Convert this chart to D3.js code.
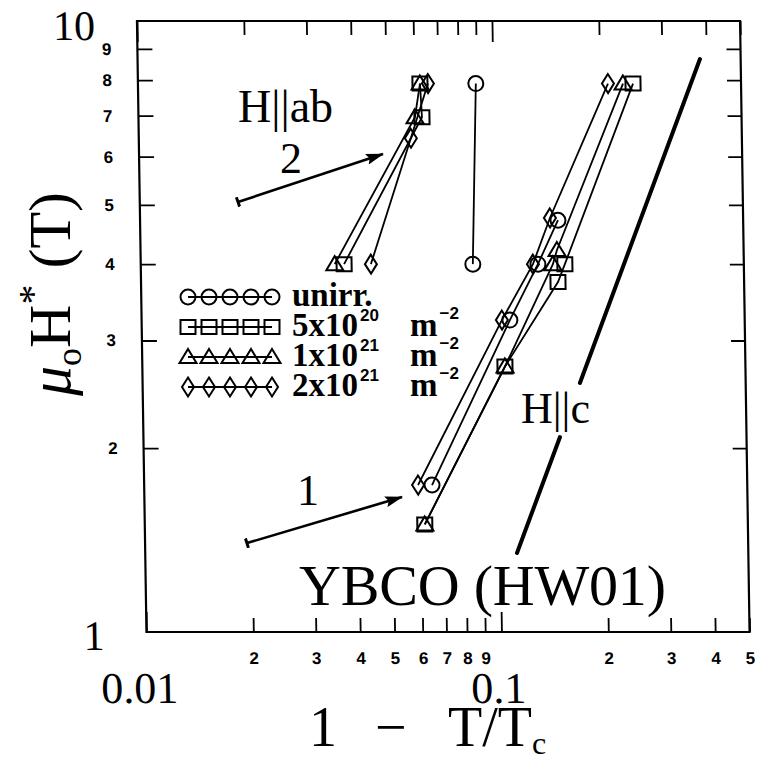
<!DOCTYPE html>
<html>
<head>
<meta charset="utf-8">
<script src="https://cdn.jsdelivr.net/npm/d3@7"></script>
<style>
  body { margin: 0; background: #fff; }
  text { fill: #000; }
</style>
</head>
<body>
<svg id="chart"></svg>
<script>
const width = 770, height = 762;

// [1 - T/Tc, mu0 H* (T)]
// H || ab
const unirrAb = [[0.0862, 4.0], [0.0895, 7.9]];
const f5e20Ab = [[0.0374, 4.0], [0.0629, 6.96], [0.0623, 7.9]];
const f1e21Ab = [[0.0352, 4.0], [0.0601, 6.96], [0.0623, 7.9]];
const f2e21Ab = [[0.0445, 4.0], [0.0584, 6.43], [0.0656, 7.9]];
// H || c
const unirrC = [[0.0647, 1.74], [0.1090, 3.24], [0.1315, 4.0], [0.1504, 4.72]];
const f5e20C = [[0.0615, 1.5], [0.1051, 2.72], [0.1495, 3.74], [0.1566, 4.0], [0.2481, 7.9]];
const f1e21C = [[0.0615, 1.5], [0.1051, 2.72], [0.1449, 4.0], [0.1490, 4.22], [0.2325, 7.9]];
const f2e21C = [[0.0591, 1.74], [0.1035, 3.24], [0.1273, 4.0], [0.1428, 4.76], [0.2109, 7.9]];

// guide line (slope) for H || c, drawn in two pieces around its label
const guideLow = [[0.1115, 1.347], [0.1491, 2.085]];
const guideHigh = [[0.1706, 2.556], [0.3840, 8.665]];

// arrows "1" and "2": [tail, head]
const arrow1 = [[0.01936, 1.398], [0.0532, 1.663]];
const arrow2 = [[0.01891, 5.056], [0.04866, 6.058]];

const xMinorTicks = [0.02, 0.03, 0.04, 0.05, 0.06, 0.07, 0.08, 0.09, 0.2, 0.3, 0.4, 0.5];
const xMajorTicks = [0.01, 0.1];
const yMinorTicks = [2, 3, 4, 5, 6, 7, 8, 9];
const yMajorTicks = [1, 10];

const legendShapes = ["circle", "square", "triangle", "diamond"];
const legendLabels = ["unirr.", "5x10", "1x10", "2x10"];
const legendExps = [null, "20", "21", "21"];

const series = [
    { data: unirrAb, shape: "circle" },
    { data: f5e20Ab, shape: "square" },
    { data: f1e21Ab, shape: "triangle" },
    { data: f2e21Ab, shape: "diamond" },
    { data: unirrC, shape: "circle" },
    { data: f5e20C, shape: "square" },
    { data: f1e21C, shape: "triangle" },
    { data: f2e21C, shape: "diamond" }
];

const serif = "'Liberation Serif', 'Times New Roman', serif";
const sans = "'Liberation Sans', Arial, sans-serif";

const svg = d3.select("#chart")
    .attr("width", width)
    .attr("height", height)
    .attr("viewBox", [0, 0, width, height]);

const x = d3.scaleLog().domain([0.01, 0.5]).range([141.7, 744.8]);
const y = d3.scaleLog().domain([1, 10]).range([632, 21]);

// the scanned figure leans a little: top edge sits left of the bottom edge
const skew = 0.89;
const midY = 326;
const plot = svg.append("g")
    .attr("transform", `translate(${-Math.tan(skew * Math.PI / 180) * midY},0) skewX(${skew})`);

plot.append("rect")
    .attr("x", x(0.01))
    .attr("y", y(10))
    .attr("width", x(0.5) - x(0.01))
    .attr("height", y(1) - y(10))
    .attr("fill", "none")
    .attr("stroke", "#000")
    .attr("stroke-width", 2.2);

function styleAxis(g) {
    g.select(".domain").remove();
    g.selectAll(".tick line").attr("stroke", "#000").attr("stroke-width", 1.8);
    g.selectAll("text").attr("fill", "#000");
}

const digit = d => Math.round(d < 0.1 ? d / 0.01 : d / 0.1);

// bottom
plot.append("g")
    .attr("transform", `translate(0,${y(1)})`)
    .call(d3.axisBottom(x).tickValues(xMinorTicks).tickSize(-14).tickPadding(20).tickFormat(digit))
    .call(styleAxis)
    .call(g => g.selectAll("text")
        .attr("font-family", sans).attr("font-weight", "bold").attr("font-size", 17));

plot.append("g")
    .attr("transform", `translate(0,${y(1)})`)
    .call(d3.axisBottom(x).tickValues(xMajorTicks).tickSize(-20).tickPadding(40).tickFormat(d => String(d)))
    .call(styleAxis)
    .call(g => g.selectAll("text")
        .attr("font-family", serif).attr("font-size", 44)
        .attr("dx", d => d === 0.01 ? -8 : -4));

// top
plot.append("g")
    .attr("transform", `translate(0,${y(10)})`)
    .call(d3.axisTop(x).tickValues(xMinorTicks).tickSize(-14).tickFormat(""))
    .call(styleAxis);
plot.append("g")
    .attr("transform", `translate(0,${y(10)})`)
    .call(d3.axisTop(x).tickValues(xMajorTicks).tickSize(-21).tickFormat(""))
    .call(styleAxis);

// left
plot.append("g")
    .attr("transform", `translate(${x(0.01)},0)`)
    .call(d3.axisLeft(y).tickValues(yMinorTicks).tickSize(-15).tickPadding(26))
    .call(styleAxis)
    .call(g => g.selectAll("text")
        .attr("font-family", sans).attr("font-weight", "bold").attr("font-size", 17));

plot.append("g")
    .attr("transform", `translate(${x(0.01)},0)`)
    .call(d3.axisLeft(y).tickValues(yMajorTicks).tickSize(0).tickPadding(42).tickFormat(d3.format("d")))
    .call(styleAxis)
    .call(g => g.selectAll("text")
        .attr("font-family", serif).attr("font-size", 42)
        .attr("dy", d => d === 10 ? "0.45em" : "0.42em"));

// right
plot.append("g")
    .attr("transform", `translate(${x(0.5)},0)`)
    .call(d3.axisRight(y).tickValues(yMinorTicks).tickSize(-14).tickFormat(""))
    .call(styleAxis);

// marker shapes, centred on 0,0
function shapePath(shape) {
    switch (shape) {
        case "circle": return d3.symbol(d3.symbolCircle, Math.PI * 7.5 * 7.5)();
        case "square": return "M-7.5,-7L7.5,-7L7.5,7L-7.5,7Z";
        case "triangle": return "M0,-8L8.5,6L-8.5,6Z";
        case "diamond": return "M0,-9.5L6,0L0,9.5L-6,0Z";
    }
}

const line = d3.line().x(d => x(d[0])).y(d => y(d[1]));

const groups = plot.selectAll("g.series")
    .data(series)
    .join("g")
    .attr("class", "series");

groups.append("path")
    .attr("d", d => line(d.data))
    .attr("fill", "none")
    .attr("stroke", "#000")
    .attr("stroke-width", 1.8);

groups.selectAll("path.pt")
    .data(d => d.data.map(p => ({ p, shape: d.shape })))
    .join("path")
    .attr("class", "pt")
    .attr("transform", d => `translate(${x(d.p[0])},${y(d.p[1])})`)
    .attr("d", d => shapePath(d.shape))
    .attr("fill", "none")
    .attr("stroke", "#000")
    .attr("stroke-width", 2);

// slope guide
[guideLow, guideHigh].forEach(seg => {
    plot.append("path")
        .attr("d", line(seg))
        .attr("stroke", "#000")
        .attr("stroke-width", 4)
        .attr("stroke-linecap", "round");
});

// arrows
const defs = svg.append("defs");
defs.append("marker")
    .attr("id", "head")
    .attr("viewBox", "0 0 18 11")
    .attr("refX", 17).attr("refY", 5.5)
    .attr("markerWidth", 18).attr("markerHeight", 11)
    .attr("markerUnits", "userSpaceOnUse")
    .attr("orient", "auto")
    .append("path").attr("d", "M0,0L18,5.5L0,11L3,5.5Z").attr("fill", "#000");
defs.append("marker")
    .attr("id", "tail")
    .attr("viewBox", "0 0 4 10")
    .attr("refX", 2).attr("refY", 5)
    .attr("markerWidth", 4).attr("markerHeight", 10)
    .attr("markerUnits", "userSpaceOnUse")
    .attr("orient", "auto")
    .append("path").attr("d", "M2,0L2,10").attr("stroke", "#000").attr("stroke-width", 3);

[arrow1, arrow2].forEach(a => {
    plot.append("path")
        .attr("d", line(a))
        .attr("stroke", "#000")
        .attr("stroke-width", 2.6)
        .attr("marker-start", "url(#tail)")
        .attr("marker-end", "url(#head)");
});

// legend
const legend = svg.append("g");
legendShapes.forEach((shape, i) => {
    const ry = 297 + i * 30;
    const row = legend.append("g");
    const xs = d3.range(5).map(k => 188 + k * 21);
    row.append("line")
        .attr("x1", xs[0]).attr("x2", xs[4])
        .attr("y1", ry).attr("y2", ry)
        .attr("stroke", "#000").attr("stroke-width", 1.8);
    row.selectAll("path")
        .data(xs)
        .join("path")
        .attr("transform", d => `translate(${d},${ry})`)
        .attr("d", shapePath(shape))
        .attr("fill", "none")
        .attr("stroke", "#000")
        .attr("stroke-width", 2);
    const t = row.append("text")
        .attr("x", 292).attr("y", ry + 9)
        .attr("font-family", serif).attr("font-weight", "bold").attr("font-size", 33);
    t.append("tspan").text(legendLabels[i]);
    if (legendExps[i]) {
        t.append("tspan").attr("font-family", sans).attr("font-size", 17)
            .attr("dy", -15).attr("dx", 2).text(legendExps[i]);
        row.append("text")
            .attr("x", 410).attr("y", ry + 9)
            .attr("font-family", serif).attr("font-weight", "bold").attr("font-size", 33)
            .text("m")
            .append("tspan").attr("font-family", sans).attr("font-size", 17)
            .attr("dy", -17).attr("dx", 2).text("\u22122");
    }
});

// annotations
function label(tx, ty, size, str) {
    return svg.append("text")
        .attr("x", tx).attr("y", ty)
        .attr("font-family", serif).attr("font-size", size)
        .text(str);
}
label(238, 122, 46, "H||ab");
label(280, 173, 44, "2");
label(297, 505, 44, "1");
label(521, 423, 44, "H||c");
label(299, 605, 58, "YBCO (HW01)")
    .attr("textLength", 367).attr("lengthAdjust", "spacing");

// axis titles
const xt = svg.append("text")
    .attr("y", 746)
    .attr("font-family", serif).attr("font-size", 56);
xt.append("tspan").attr("x", 309).text("1");
xt.append("tspan").attr("x", 375).text("\u2212");
xt.append("tspan").attr("x", 448).text("T/T");
xt.append("tspan").attr("font-size", 32).attr("dy", 8).text("c");

const yt = svg.append("text")
    .attr("transform", "translate(70,294) rotate(-90)")
    .attr("text-anchor", "middle")
    .attr("font-family", serif).attr("font-size", 60);
yt.append("tspan").attr("font-style", "italic").text("\u03bc");
yt.append("tspan").attr("font-size", 36).attr("dy", 11).text("o");
yt.append("tspan").attr("dy", -11).text("H");
yt.append("tspan").attr("font-size", 40).attr("dy", -24).text("*");
yt.append("tspan").attr("dy", 24).attr("dx", 16).text("(T)");
</script>
</body>
</html>
